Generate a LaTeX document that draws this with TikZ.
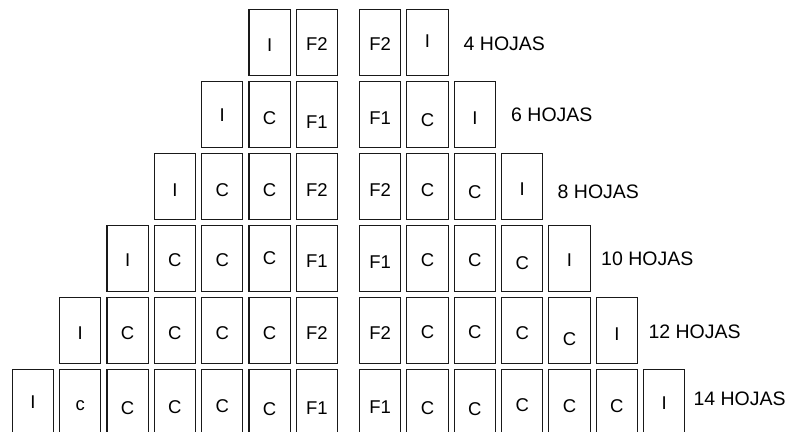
\documentclass[tikz,border=0pt]{standalone}
\usepackage{fontspec}
\setmainfont{Liberation Sans}
\usetikzlibrary{calc}
\tikzset{
  leaf/.style={draw=black!90, line width=1.1pt, minimum width=41.3pt, minimum height=66pt, inner sep=0pt, anchor=north west},
  lbl/.style={font=\fontsize{18.5}{18.5}\selectfont, inner sep=0pt},
  hojas/.style={font=\fontsize{19.5}{19.5}\selectfont, inner sep=0pt, anchor=west},
}
\newcommand{\leafbox}[5]{%
  \node[leaf] (#1) at (#2,#3) {};
  \node[lbl] (#1t) at ($(#1.center)+(0,#5)$) {#4};
}
\begin{document}
\begin{tikzpicture}[x=1pt,y=-1pt]
\useasboundingbox (0,0) rectangle (799,431);
\clip (0,0) rectangle (799,431);
% Row 1
\leafbox{ra-l5}{248.4}{9.3}{I}{1.9}
\leafbox{ra-l6}{295.7}{9.3}{F2}{1}
\leafbox{ra-r0}{359.0}{9.3}{F2}{1}
\leafbox{ra-r1}{406.3}{9.3}{I}{-1.5}
\node[hojas] (ha) at (463.5,44.2) {4 HOJAS};
% Row 2
\leafbox{rb-l4}{201.0}{81.3}{I}{0.7}
\leafbox{rb-l5}{248.4}{81.3}{C}{3.5}
\leafbox{rb-l6}{295.7}{81.3}{F1}{7.4}
\leafbox{rb-r0}{359.0}{81.3}{F1}{3.2}
\leafbox{rb-r1}{406.3}{81.3}{C}{4.9}
\leafbox{rb-r2}{453.7}{81.3}{I}{3.2}
\node[hojas] (hb) at (511,115) {6 HOJAS};
% Row 3
\leafbox{rc-l3}{153.7}{153.3}{I}{3}
\leafbox{rc-l4}{201.0}{153.3}{C}{3}
\leafbox{rc-l5}{248.4}{153.3}{C}{3}
\leafbox{rc-l6}{295.7}{153.3}{F2}{3}
\leafbox{rc-r0}{359.0}{153.3}{F2}{2.9}
\leafbox{rc-r1}{406.3}{153.3}{C}{3.7}
\leafbox{rc-r2}{453.7}{153.3}{C}{5.7}
\leafbox{rc-r3}{501.0}{153.3}{I}{2}
\node[hojas] (hc) at (557.5,191.7) {8 HOJAS};
% Row 4
\leafbox{rd-l2}{106.4}{225.3}{I}{0.9}
\leafbox{rd-l3}{153.7}{225.3}{C}{0.9}
\leafbox{rd-l4}{201.0}{225.3}{C}{0.9}
\leafbox{rd-l5}{248.4}{225.3}{C}{-0.5}
\leafbox{rd-l6}{295.7}{225.3}{F1}{2}
\leafbox{rd-r0}{359.0}{225.3}{F1}{3.7}
\leafbox{rd-r1}{406.3}{225.3}{C}{1.7}
\leafbox{rd-r2}{453.7}{225.3}{C}{1.7}
\leafbox{rd-r3}{501.0}{225.3}{C}{4.2}
\leafbox{rd-r4}{548.3}{225.3}{I}{1.7}
\node[hojas] (hd) at (601,258.3) {10 HOJAS};
% Row 5
\leafbox{re-l1}{59.0}{297.3}{I}{2}
\leafbox{re-l2}{106.4}{297.3}{C}{2}
\leafbox{re-l3}{153.7}{297.3}{C}{2}
\leafbox{re-l4}{201.0}{297.3}{C}{2}
\leafbox{re-l5}{248.4}{297.3}{C}{2}
\leafbox{re-l6}{295.7}{297.3}{F2}{2}
\leafbox{re-r0}{359.0}{297.3}{F2}{2.2}
\leafbox{re-r1}{406.3}{297.3}{C}{1.7}
\leafbox{re-r2}{453.7}{297.3}{C}{1.7}
\leafbox{re-r3}{501.0}{297.3}{C}{2.7}
\leafbox{re-r4}{548.3}{297.3}{C}{8.7}
\leafbox{re-r5}{595.7}{297.3}{I}{3}
\node[hojas] (he) at (648.3,331.7) {12 HOJAS};
% Row 6
\leafbox{rf-l0}{11.7}{369.3}{I}{-1.1}
\leafbox{rf-l1}{59.0}{369.3}{c}{3}
\leafbox{rf-l2}{106.4}{369.3}{C}{5.2}
\leafbox{rf-l3}{153.7}{369.3}{C}{4}
\leafbox{rf-l4}{201.0}{369.3}{C}{3.2}
\leafbox{rf-l5}{248.4}{369.3}{C}{6}
\leafbox{rf-l6}{295.7}{369.3}{F1}{5.5}
\leafbox{rf-r0}{359.0}{369.3}{F1}{4}
\leafbox{rf-r1}{406.3}{369.3}{C}{5.2}
\leafbox{rf-r2}{453.7}{369.3}{C}{6}
\leafbox{rf-r3}{501.0}{369.3}{C}{2.7}
\leafbox{rf-r4}{548.3}{369.3}{C}{3.5}
\leafbox{rf-r5}{595.7}{369.3}{C}{3.5}
\leafbox{rf-r6}{643.0}{369.3}{I}{-0.1}
\node[hojas] (hf) at (693.3,399.2) {14 HOJAS};
\end{tikzpicture}
\end{document}
